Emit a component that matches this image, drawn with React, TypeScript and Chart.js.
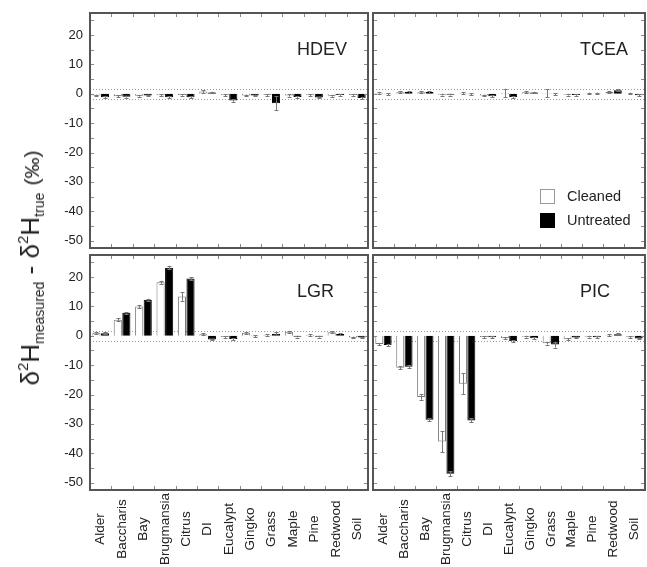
import React, { useEffect, useRef } from 'react';
import { Chart, registerables } from 'chart.js';

Chart.register(...registerables);

const categories = ['Alder', 'Baccharis', 'Bay', 'Brugmansia', 'Citrus', 'DI', 'Eucalypt', 'Gingko', 'Grass', 'Maple', 'Pine', 'Redwood', 'Soil'];
const yTickValues = [20, 10, 0, -10, -20, -30, -40, -50];
const minorTickValues = [25, 20, 15, 10, 5, 0, -5, -10, -15, -20, -25, -30, -35, -40, -45, -50];
const referenceLines = [1.7, -1.7];
const seriesNames = ['Cleaned', 'Untreated'];

const hdevCleaned = [-0.6, -0.8, -0.7, -0.5, -0.4, 0.8, -0.5, -0.6, -0.4, -0.6, -0.5, -0.7, -0.4];
const hdevUntreated = [-1.2, -1.0, -0.6, -1.2, -1.2, 0.4, -2.3, -0.6, -3.2, -1.1, -1.3, -0.4, -1.4];
const hdevCleanedErr = [0.3, 0.4, 0.3, 0.3, 0.3, 0.5, 0.3, 0.3, 0.3, 0.4, 0.3, 0.3, 0.3];
const hdevUntreatedErr = [0.3, 0.3, 0.3, 0.3, 0.3, 0.3, 0.4, 0.3, 2.3, 0.3, 0.3, 0.3, 0.4];

const tceaCleaned = [0.3, 0.5, 0.5, -0.3, 0.2, -0.6, 0.3, 0.5, 0.2, -0.3, 0.1, 0.6, 0.1];
const tceaUntreated = [-0.2, 0.6, 0.6, -0.3, -0.2, -0.8, -1.1, 0.4, -0.1, -0.4, 0.1, 1.2, -0.5];
const tceaCleanedErr = [0.3, 0.4, 0.3, 0.3, 0.3, 0.3, 1.4, 0.3, 1.3, 0.3, 0.3, 0.4, 0.3];
const tceaUntreatedErr = [0.3, 0.3, 0.3, 0.3, 0.3, 0.3, 0.3, 0.3, 0.3, 0.3, 0.3, 0.3, 0.3];

const lgrCleaned = [1.0, 5.5, 10.0, 18.2, 13.4, 0.5, -0.4, 1.0, 0.3, 1.4, 0.3, 1.2, -0.6];
const lgrUntreated = [0.9, 7.8, 12.3, 23.2, 19.5, -1.3, -1.1, -0.2, 0.7, -0.3, -0.3, 0.6, -0.6];
const lgrCleanedErr = [0.3, 0.5, 0.5, 0.5, 1.5, 0.3, 0.3, 0.3, 0.3, 0.3, 0.3, 0.3, 0.3];
const lgrUntreatedErr = [0.3, 0.3, 0.3, 0.6, 0.5, 0.3, 0.3, 0.3, 0.6, 0.3, 0.3, 0.3, 0.3];

const picCleaned = [-2.8, -10.9, -20.8, -36.0, -16.3, -0.4, -0.8, -0.3, -2.5, -1.2, -0.3, 0.2, -0.5];
const picUntreated = [-3.1, -10.5, -28.6, -47.0, -28.8, -0.5, -1.8, -0.8, -3.0, -0.6, -0.5, 0.5, -0.9];
const picCleanedErr = [0.4, 0.5, 1.0, 3.6, 3.5, 0.3, 0.3, 0.3, 0.5, 0.4, 0.3, 0.3, 0.3];
const picUntreatedErr = [0.4, 0.6, 0.5, 0.8, 0.7, 0.3, 0.3, 0.3, 1.0, 0.3, 0.3, 0.3, 0.3];

const FONT = '"Liberation Sans", Arial, Helvetica, sans-serif';

type PanelDef = {
  name: string;
  cleaned: number[];
  untreated: number[];
  cleanedErr: number[];
  untreatedErr: number[];
  showY: boolean;
  showX: boolean;
  legend: boolean;
  left: number;
  top: number;
  width: number;
  height: number;
  padding: { left: number; right: number; top: number; bottom: number };
};

const panels: PanelDef[] = [
  { name: 'HDEV', cleaned: hdevCleaned, untreated: hdevUntreated, cleanedErr: hdevCleanedErr, untreatedErr: hdevUntreatedErr, showY: true, showX: false, legend: false, left: 0, top: 0, width: 375, height: 252, padding: { left: 0, right: 7, top: 13, bottom: 4 } },
  { name: 'TCEA', cleaned: tceaCleaned, untreated: tceaUntreated, cleanedErr: tceaCleanedErr, untreatedErr: tceaUntreatedErr, showY: false, showX: false, legend: true, left: 368, top: 0, width: 279, height: 252, padding: { left: 5, right: 2, top: 13, bottom: 4 } },
  { name: 'LGR', cleaned: lgrCleaned, untreated: lgrUntreated, cleanedErr: lgrCleanedErr, untreatedErr: lgrUntreatedErr, showY: true, showX: true, legend: false, left: 0, top: 250, width: 375, height: 317, padding: { left: 0, right: 7, top: 5, bottom: 0 } },
  { name: 'PIC', cleaned: picCleaned, untreated: picUntreated, cleanedErr: picCleanedErr, untreatedErr: picUntreatedErr, showY: false, showX: true, legend: false, left: 368, top: 250, width: 279, height: 317, padding: { left: 5, right: 2, top: 5, bottom: 0 } },
];

function makePlugin(def: PanelDef) {
  return {
    id: 'panelDecor' + def.name,
    beforeDatasetsDraw(chart: any) {
      const { ctx, chartArea: a, scales } = chart;
      const y = scales.y;
      ctx.save();
      ctx.strokeStyle = '#999';
      ctx.lineWidth = 1;
      ctx.setLineDash([1, 2]);
      referenceLines.forEach((v) => {
        const py = Math.round(y.getPixelForValue(v)) + 0.5;
        ctx.beginPath();
        ctx.moveTo(a.left, py);
        ctx.lineTo(a.right, py);
        ctx.stroke();
      });
      ctx.restore();
    },
    afterDatasetsDraw(chart: any) {
      const { ctx, scales } = chart;
      const y = scales.y;
      const errs = [def.cleanedErr, def.untreatedErr];
      const vals = [def.cleaned, def.untreated];
      ctx.save();
      ctx.strokeStyle = '#777';
      ctx.lineWidth = 1;
      for (let d = 0; d < 2; d++) {
        const meta = chart.getDatasetMeta(d);
        meta.data.forEach((el: any, i: number) => {
          const v = vals[d][i];
          const e = errs[d][i];
          const x = Math.round(el.x) + 0.5;
          const y1 = y.getPixelForValue(v - e);
          const y2 = y.getPixelForValue(v + e);
          ctx.beginPath();
          ctx.moveTo(x, y1);
          ctx.lineTo(x, y2);
          ctx.moveTo(x - 2, Math.round(y1) + 0.5);
          ctx.lineTo(x + 2, Math.round(y1) + 0.5);
          ctx.moveTo(x - 2, Math.round(y2) + 0.5);
          ctx.lineTo(x + 2, Math.round(y2) + 0.5);
          ctx.stroke();
        });
      }
      ctx.restore();
    },
    afterDraw(chart: any) {
      const { ctx, chartArea: a, scales } = chart;
      const y = scales.y;
      const xs = scales.x;
      ctx.save();
      ctx.strokeStyle = '#888';
      ctx.lineWidth = 1;
      minorTickValues.forEach((v) => {
        const py = Math.round(y.getPixelForValue(v)) + 0.5;
        ctx.beginPath();
        ctx.moveTo(a.left, py);
        ctx.lineTo(a.left + 4, py);
        ctx.moveTo(a.right - 4, py);
        ctx.lineTo(a.right, py);
        ctx.stroke();
      });
      const n = categories.length;
      for (let k = 1; k < n; k++) {
        const px = Math.round(a.left + (k * (a.right - a.left)) / n) + 0.5;
        ctx.beginPath();
        ctx.moveTo(px, a.top);
        ctx.lineTo(px, a.top + 4);
        ctx.moveTo(px, a.bottom - 4);
        ctx.lineTo(px, a.bottom);
        ctx.stroke();
      }
      ctx.strokeStyle = '#555';
      ctx.lineWidth = 2;
      ctx.strokeRect(a.left, a.top, a.right - a.left, a.bottom - a.top);
      ctx.fillStyle = '#222';
      ctx.font = '18px ' + FONT;
      ctx.textAlign = 'left';
      ctx.textBaseline = 'alphabetic';
      ctx.fillText(def.name, a.left + 207, a.top + 42);
      if (def.legend) {
        ctx.lineWidth = 1;
        ctx.fillStyle = '#fff';
        ctx.strokeStyle = '#999';
        ctx.fillRect(a.left + 167, a.top + 176, 14, 14);
        ctx.strokeRect(a.left + 167.5, a.top + 176.5, 14, 14);
        ctx.fillStyle = '#000';
        ctx.fillRect(a.left + 167, a.top + 200, 15, 15);
        ctx.fillStyle = '#222';
        ctx.font = '14.5px ' + FONT;
        ctx.fillText(seriesNames[0], a.left + 194, a.top + 188);
        ctx.fillText(seriesNames[1], a.left + 194, a.top + 212);
      }
      if (def.showX) {
        ctx.fillStyle = '#222';
        ctx.font = '13.5px ' + FONT;
        ctx.textAlign = 'center';
        ctx.textBaseline = 'middle';
        categories.forEach((c, i) => {
          const px = xs.getPixelForValue(i);
          ctx.save();
          ctx.translate(px, a.bottom + 39);
          ctx.rotate(-Math.PI / 2);
          ctx.fillText(c, 0, 0);
          ctx.restore();
        });
      }
      ctx.restore();
    },
  };
}

function Panel({ def }: { def: PanelDef }) {
  const ref = useRef<HTMLCanvasElement>(null);
  useEffect(() => {
    if (!ref.current) return;
    const chart = new Chart(ref.current, {
      type: 'bar',
      data: {
        labels: categories,
        datasets: [
          { label: seriesNames[0], data: def.cleaned, backgroundColor: '#ffffff', borderColor: '#777', borderWidth: 1, categoryPercentage: 0.8, barPercentage: 0.95 },
          { label: seriesNames[1], data: def.untreated, backgroundColor: '#000000', borderColor: '#000000', borderWidth: 1, categoryPercentage: 0.8, barPercentage: 0.95 },
        ],
      },
      options: {
        responsive: false,
        animation: false,
        devicePixelRatio: 1,
        layout: { padding: def.padding },
        plugins: { legend: { display: false }, tooltip: { enabled: false } },
        scales: {
          x: {
            display: def.showX,
            offset: true,
            grid: { display: false, drawTicks: false },
            border: { display: false },
            ticks: { display: false },
            afterFit: (s: any) => {
              s.height = def.showX ? 77 : 0;
              s.paddingLeft = 0;
              s.paddingRight = 0;
            },
          },
          y: {
            display: def.showY,
            min: -52.5,
            max: 27.5,
            grid: { display: false, drawTicks: false },
            border: { display: false },
            ticks: { color: '#222', padding: 7, font: { family: FONT, size: 13 } },
            afterBuildTicks: (s: any) => { s.ticks = yTickValues.map((v) => ({ value: v })); },
            afterFit: (s: any) => {
              s.width = def.showY ? 90 : 0;
              s.paddingTop = 0;
              s.paddingBottom = 0;
            },
          },
        },
      } as any,
      plugins: [makePlugin(def)],
    });
    return () => chart.destroy();
  }, []);
  return (
    <canvas
      ref={ref}
      width={def.width}
      height={def.height}
      style={{ position: 'absolute', left: def.left, top: def.top, width: def.width, height: def.height }}
    />
  );
}

export default function App() {
  const sub: React.CSSProperties = { fontSize: 14, verticalAlign: -5 };
  const sup: React.CSSProperties = { fontSize: 15, verticalAlign: 11 };
  return (
    <div style={{ position: 'absolute', left: 0, top: 0, width: 647, height: 567, background: '#fff', overflow: 'hidden' }}>
      {panels.map((p) => (
        <Panel key={p.name} def={p} />
      ))}
      <div
        style={{
          position: 'absolute',
          left: 31,
          top: 268,
          transform: 'translate(-50%, -50%) rotate(-90deg)',
          whiteSpace: 'nowrap',
          fontFamily: FONT,
          fontSize: 26,
          lineHeight: '30px',
          color: '#222',
        }}
      >
        δ<span style={sup}>2</span>H<span style={sub}>measured</span> - δ<span style={sup}>2</span>H<span style={sub}>true</span>{' '}
        <span style={{ fontSize: 21 }}>(‰)</span>
      </div>
    </div>
  );
}
